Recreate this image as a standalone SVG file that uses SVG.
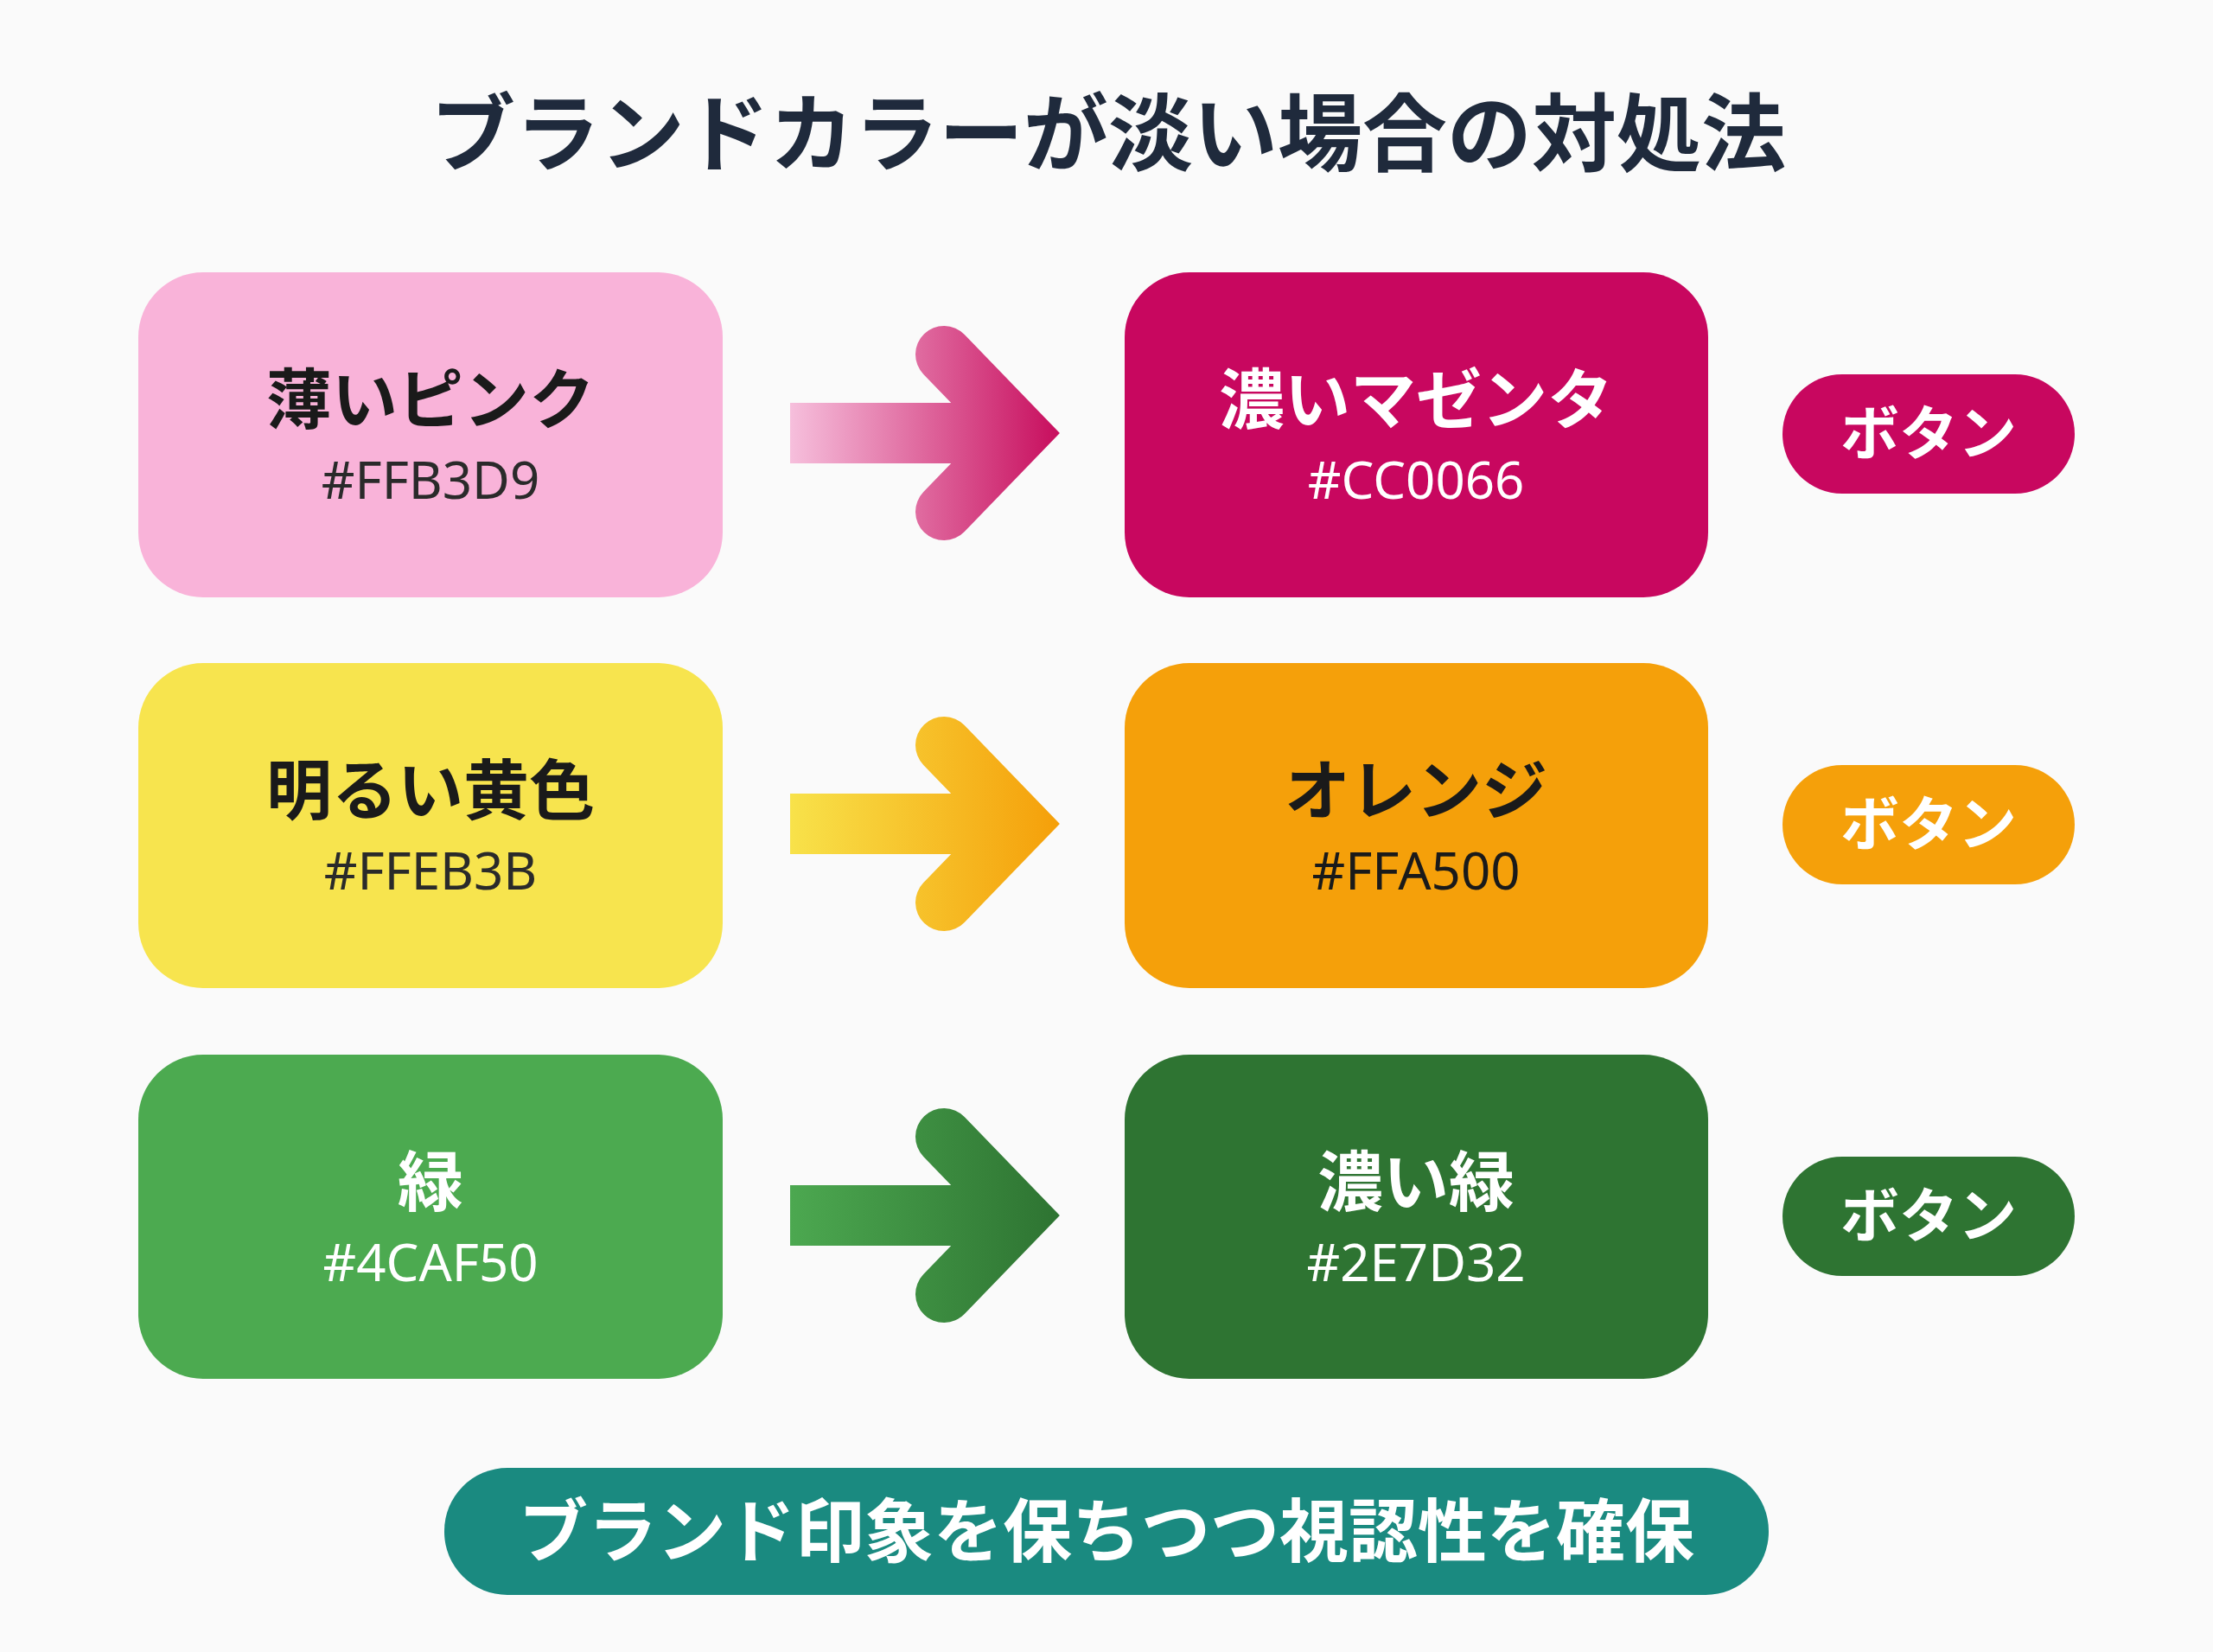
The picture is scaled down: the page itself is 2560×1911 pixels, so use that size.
<svg xmlns="http://www.w3.org/2000/svg" width="2560" height="1911" viewBox="0 0 2560 1911">
<style>
text{font-family:"Noto Sans CJK JP","Noto Sans",sans-serif;text-anchor:middle}
.t{font-size:98px;font-weight:700;fill:#1f2a3c}
.l{font-size:76px;font-weight:700}
.h{font-size:60px;font-weight:400;font-family:"Noto Sans","Noto Sans CJK JP",sans-serif}
.b{font-size:68px;font-weight:700;fill:#fff}
.f{font-size:80px;font-weight:700;fill:#fff}
.sh{stroke-width:0}
.ch{fill:none;stroke-width:66;stroke-linecap:round;stroke-linejoin:miter}
</style>
<defs>
<linearGradient id="g1" gradientUnits="userSpaceOnUse" x1="914" y1="0" x2="1221" y2="0"><stop offset="0" stop-color="#f6bfdc"/><stop offset="1" stop-color="#c8105f"/></linearGradient>
<linearGradient id="g2" gradientUnits="userSpaceOnUse" x1="914" y1="0" x2="1221" y2="0"><stop offset="0" stop-color="#f8e24a"/><stop offset="1" stop-color="#f5a00a"/></linearGradient>
<linearGradient id="g3" gradientUnits="userSpaceOnUse" x1="914" y1="0" x2="1221" y2="0"><stop offset="0" stop-color="#4ca850"/><stop offset="1" stop-color="#2e7432"/></linearGradient>
</defs>
<rect width="2560" height="1911" fill="#fafafa"/>
<text class="t" x="1282" y="190">ブランドカラーが淡い場合の対処法</text>
<g id="pink"><rect x="160" y="315" width="676" height="376" rx="75" fill="#f9b3d9"/><text class="l" x="498" y="490" fill="#1a1a1a">薄いピンク</text><text class="h" x="498" y="577" fill="#2a2a2a">#FFB3D9</text></g>
<g id="magenta"><rect x="1301" y="315" width="675" height="376" rx="75" fill="#c8075f"/><text class="l" x="1638" y="490" fill="#fff">濃いマゼンタ</text><text class="h" x="1638" y="577" fill="#fff">#CC0066</text></g>
<g id="btn1"><rect x="2062" y="433" width="338" height="138" rx="69" fill="#c8075f"/><text class="b" x="2231" y="526">ボタン</text></g>
<g id="yellow"><rect x="160" y="767" width="676" height="376" rx="75" fill="#f7e44e"/><text class="l" x="498" y="942" fill="#1a1a1a">明るい黄色</text><text class="h" x="498" y="1029" fill="#2a2a2a">#FFEB3B</text></g>
<g id="orange"><rect x="1301" y="767" width="675" height="376" rx="75" fill="#f5a00a"/><text class="l" x="1638" y="942" fill="#1a1a1a">オレンジ</text><text class="h" x="1638" y="1029" fill="#1a1a1a">#FFA500</text></g>
<g id="btn2"><rect x="2062" y="885" width="338" height="138" rx="69" fill="#f5a00a"/><text class="b" x="2231" y="978">ボタン</text></g>
<g id="green"><rect x="160" y="1220" width="676" height="375" rx="75" fill="#4caa50"/><text class="l" x="498" y="1395" fill="#fff">緑</text><text class="h" x="498" y="1482" fill="#fff">#4CAF50</text></g>
<g id="darkgreen"><rect x="1301" y="1220" width="675" height="375" rx="75" fill="#2e7432"/><text class="l" x="1638" y="1395" fill="#fff">濃い緑</text><text class="h" x="1638" y="1482" fill="#fff">#2E7D32</text></g>
<g id="btn3"><rect x="2062" y="1338" width="338" height="138" rx="69" fill="#2e7432"/><text class="b" x="2231" y="1431">ボタン</text></g>
<g id="connectors">
<rect x="914" y="466" width="260" height="70" fill="url(#g1)"/><polyline class="ch" points="1092,410 1180,501 1092,592" stroke="url(#g1)"/>
<rect x="914" y="918" width="260" height="70" fill="url(#g2)"/><polyline class="ch" points="1092,862 1180,953 1092,1044" stroke="url(#g2)"/>
<rect x="914" y="1371" width="260" height="70" fill="url(#g3)"/><polyline class="ch" points="1092,1315 1180,1406 1092,1497" stroke="url(#g3)"/>
</g>
<g id="banner"><rect x="514" y="1698" width="1532" height="147" rx="73" fill="#1a8a80"/><text class="f" x="1280" y="1800">ブランド印象を保ちつつ視認性を確保</text></g>
</svg>
